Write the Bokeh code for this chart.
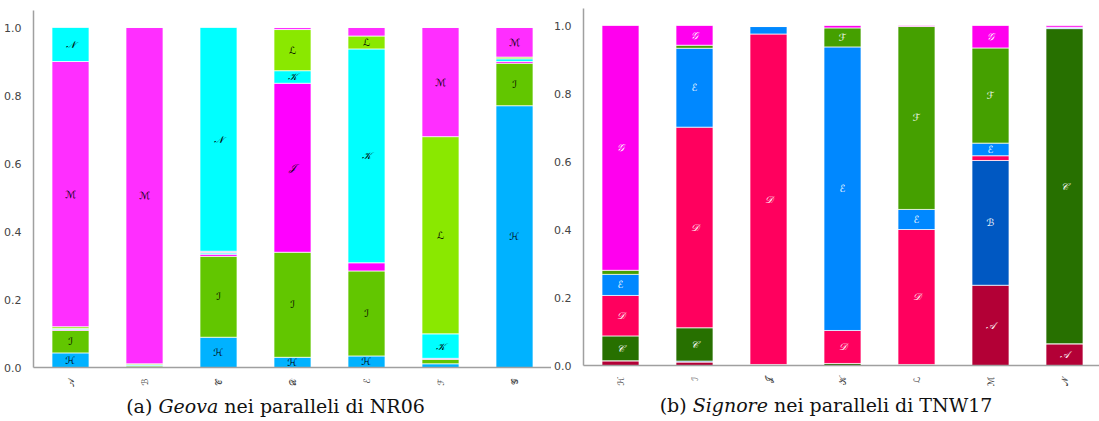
from bokeh.plotting import figure
from bokeh.models import ColumnDataSource, Div, FactorRange, FixedTicker
from bokeh.layouts import row, column
from bokeh.embed import file_html
from bokeh.resources import INLINE
from bokeh.core.properties import value

# ---------- data: panel (a) ----------
a_cats = ["𝒜", "ℬ", "𝒞", "𝒟", "ℰ", "ℱ", "𝒢"]
a_series = ["ℋ", "ℐ", "𝒥", "𝒦", "ℒ", "ℳ", "𝒩"]
a_H = [0.043, 0.000, 0.089, 0.030, 0.034, 0.011, 0.770]
a_I = [0.066, 0.005, 0.238, 0.309, 0.250, 0.013, 0.125]
a_J = [0.003, 0.000, 0.006, 0.497, 0.024, 0.003, 0.005]
a_K = [0.003, 0.003, 0.004, 0.037, 0.629, 0.072, 0.008]
a_L = [0.005, 0.003, 0.002, 0.121, 0.038, 0.580, 0.005]
a_M = [0.780, 0.989, 0.003, 0.006, 0.025, 0.321, 0.087]
a_N = [0.100, 0.000, 0.658, 0.000, 0.000, 0.000, 0.000]
a_colors = ["#00b2ff", "#62c600", "#ff00ff", "#00ffff", "#8ae800", "#ff2eff", "#00ffff"]

# ---------- data: panel (b) ----------
b_cats = ["ℋ", "ℐ", "𝒥", "𝒦", "ℒ", "ℳ", "𝒩"]
b_series = ["𝒜", "ℬ", "𝒞", "𝒟", "ℰ", "ℱ", "𝒢"]
b_A = [0.014, 0.010, 0.003, 0.000, 0.000, 0.236, 0.064]
b_B = [0.000, 0.003, 0.000, 0.000, 0.000, 0.367, 0.000]
b_C = [0.073, 0.098, 0.000, 0.006, 0.003, 0.000, 0.927]
b_D = [0.119, 0.590, 0.972, 0.097, 0.397, 0.014, 0.000]
b_E = [0.062, 0.232, 0.022, 0.834, 0.059, 0.037, 0.004]
b_F = [0.012, 0.009, 0.000, 0.056, 0.538, 0.280, 0.000]
b_G = [0.720, 0.058, 0.000, 0.007, 0.003, 0.066, 0.005]
b_colors = ["#b30036", "#0058c2", "#277000", "#ff005e", "#0088ff", "#45a000", "#ff00ee"]

LABEL_MIN = 0.028
FONT = "DejaVu Sans"


def make_panel(cats, series, vals, colors, label_color, border_left, border_top, width):
    keys = ["s%d" % i for i in range(len(series))]
    data = {"cat": cats}
    for k, v in zip(keys, vals):
        data[k] = v
    src = ColumnDataSource(data)
    p = figure(x_range=FactorRange(*cats, range_padding=0), y_range=(0, 1.05),
               width=width, frame_width=518, frame_height=357,
               min_border_left=border_left, min_border_right=0,
               min_border_top=border_top, min_border_bottom=22,
               output_backend="svg", toolbar_location=None, tools="")
    p.vbar_stack(keys, x="cat", width=0.5, source=src, color=colors,
                 line_color="white", line_alpha=0.7, line_width=1)
    # segment labels
    lx, ly, lt = [], [], []
    for ci, c in enumerate(cats):
        base = 0.0
        for si, s in enumerate(series):
            v = vals[si][ci]
            if v >= LABEL_MIN:
                lx.append(c)
                ly.append(base + v / 2)
                lt.append(s)
            base += v
    p.text(x=lx, y=ly, text=lt, text_align="center", text_baseline="middle",
           text_color=label_color, text_font_size="10px", text_font=value(FONT),
           text_font_style="italic")
    p.grid.visible = False
    p.outline_line_color = None
    for ax in (p.xaxis[0], p.yaxis[0]):
        ax.axis_line_color = "#a0a0a0"
        ax.axis_line_width = 1.5
        ax.major_tick_line_color = None
        ax.minor_tick_line_color = None
        ax.major_label_text_font = FONT
        ax.major_label_text_color = "#444444"
    p.yaxis.ticker = FixedTicker(ticks=[0, 0.2, 0.4, 0.6, 0.8, 1.0])
    p.yaxis.major_label_overrides = {0: "0.0", 0.2: "0.2", 0.4: "0.4", 0.6: "0.6", 0.8: "0.8", 1.0: "1.0"}
    p.yaxis.major_label_text_font_size = "11px"
    p.yaxis.major_label_standoff = 6
    p.xaxis.major_label_text_font_size = "9px"
    p.xaxis.major_label_orientation = 1.5708
    p.xaxis.major_label_standoff = 5
    return p


pa = make_panel(a_cats, a_series, [a_H, a_I, a_J, a_K, a_L, a_M, a_N], a_colors,
                "black", 33, 10, 551)
pb = make_panel(b_cats, b_series, [b_A, b_B, b_C, b_D, b_E, b_F, b_G], b_colors,
                "white", 30, 8, 548)

cap_style = {"text-align": "center", "font-family": "DejaVu Serif",
             "font-size": "19px", "color": "#111111", "width": "100%"}
da = Div(text="(a) <i>Geova</i> nei paralleli di NR06", width=551, height=30,
         styles=cap_style, margin=(3, 0, 0, 0))
db = Div(text="(b) <i>Signore</i> nei paralleli di TNW17", width=548, height=30,
         styles=cap_style, margin=(3, 0, 0, 0))

layout = row(column(pa, da, spacing=0), column(pb, db, spacing=0), spacing=0)
open("out.html", "w").write(file_html(layout, INLINE))
